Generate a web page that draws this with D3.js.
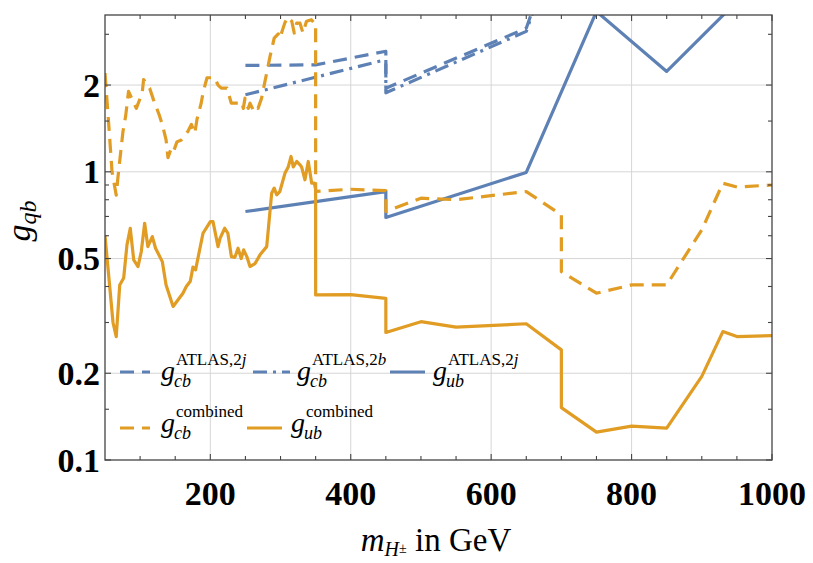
<!DOCTYPE html>
<html>
<head>
<meta charset="utf-8">
<script src="https://cdn.jsdelivr.net/npm/d3@7"></script>
<style>
  body { margin: 0; background: #fff; }
  svg { font-family: "Liberation Serif", "Times New Roman", serif; }
</style>
</head>
<body>
<svg id="chart" width="813" height="563"></svg>
<script>
// values: [mass in GeV, coupling]
const cb2jATLAS = [[250, 2.34], [350, 2.35], [450, 2.62], [450, 1.95], [650, 3.15], [700, 7]];
const cb2bATLAS = [[250, 1.85], [450, 2.45], [450, 1.88], [650, 3.07], [700, 7]];
const ub2jATLAS = [[250, 0.728], [450, 0.854], [450, 0.694], [650, 0.995], [750, 3.6], [850, 2.23], [950, 3.9]];

const cbCombined = [
  [50, 2.2], [55, 1.5], [60, 1.0], [66, 0.83], [68.5, 0.96], [75.6, 1.38], [79.4, 1.56], [83.5, 1.9],
  [94.6, 1.66], [103, 1.88], [105, 2.09], [113.6, 1.95], [119, 1.78], [127, 1.58], [131.6, 1.46],
  [137, 1.29], [139.7, 1.12], [144.5, 1.21], [147.8, 1.18], [152.5, 1.27], [158.7, 1.29], [168, 1.38],
  [173, 1.46], [177.8, 1.36], [181, 1.52], [187, 1.73], [189.6, 1.88], [195.3, 2.12], [206, 2.12],
  [211, 2.0], [215.6, 1.95], [223.8, 1.95], [229.9, 1.73], [239.7, 1.73], [244.7, 1.75], [247, 1.66],
  [249.4, 1.8], [251.8, 1.71], [254, 1.66], [256.5, 1.73], [261, 1.64], [263.6, 1.69], [268, 1.66],
  [273, 1.8], [285, 2.51], [291, 2.91], [296.8, 3.01], [299, 2.91], [306, 3.28], [310, 3.44],
  [316, 3.33], [319.6, 3.03], [323, 3.28], [327.7, 3.28], [332, 3.03], [337, 3.33], [344, 3.37],
  [348, 3.28], [350, 3.28], [350, 0.855], [400, 0.87], [450, 0.86], [450, 0.728], [500, 0.81],
  [550, 0.8], [650, 0.854], [700, 0.709], [700, 0.45], [750, 0.379], [800, 0.405], [850, 0.405],
  [900, 0.629], [930, 0.913], [950, 0.885], [1000, 0.9]
];

const ubCombined = [
  [50, 0.6], [56.7, 0.4], [61.4, 0.3], [66, 0.268], [71, 0.405], [76.6, 0.428], [81.3, 0.558],
  [86, 0.637], [90.9, 0.495], [97, 0.469], [101.7, 0.529], [106.5, 0.663], [111, 0.55], [117.4, 0.596],
  [122, 0.543], [131.6, 0.488], [137, 0.405], [147, 0.341], [161, 0.379], [165.8, 0.4], [171.5, 0.417],
  [175.3, 0.467], [179, 0.457], [189.6, 0.612], [200, 0.672], [203.8, 0.672], [211, 0.55], [214, 0.589],
  [220.5, 0.637], [225, 0.612], [230, 0.508], [235, 0.505], [239.5, 0.543], [244, 0.5], [247.5, 0.536],
  [252, 0.508], [256.5, 0.469], [263.6, 0.48], [270.8, 0.515], [280.3, 0.55], [287.4, 0.843],
  [291, 0.878], [294.5, 0.832], [299, 0.854], [306.4, 0.99], [311, 1.04], [315, 1.13], [318.2, 1.04],
  [323, 1.086], [327.7, 1.057], [330, 1.04], [334.8, 0.938], [339.5, 1.086], [344.4, 0.913],
  [348, 0.913], [350, 0.87], [350, 0.374], [400, 0.375], [450, 0.364], [450, 0.277], [500, 0.302],
  [550, 0.289], [650, 0.297], [700, 0.241], [700, 0.152], [750, 0.125], [800, 0.131], [850, 0.129],
  [900, 0.195], [930, 0.279], [950, 0.268], [1000, 0.27]
];

const xMajorTicks = [200, 400, 600, 800, 1000];
const xMinorTicks = [100, 150, 250, 300, 350, 450, 500, 550, 650, 700, 750, 850, 900, 950];
const yMajorTicks = [0.1, 0.2, 0.5, 1, 2];
const yMinorTicks = [0.15, 0.3, 0.4, 0.6, 0.7, 0.8, 0.9, 1.5, 3];

const blue = "#5E81B5", orange = "#E19C24";
const dashed = "14,8", dashDot = "14,6,3,6";

const svg = d3.select("#chart");
const pLeft = 105, pRight = 772, pTop = 15, pBottom = 460;

const x = d3.scaleLinear().domain([50, 1000]).range([pLeft, pRight]);
const y = d3.scaleLog().domain([0.1, 3.5]).range([pBottom, pTop]);

svg.append("defs").append("clipPath").attr("id", "plotclip")
  .append("rect").attr("x", pLeft).attr("y", pTop)
  .attr("width", pRight - pLeft).attr("height", pBottom - pTop);

// grid
const grid = svg.append("g").attr("stroke", "#d6d6d6").attr("stroke-width", 1);
grid.selectAll(".gx").data(xMajorTicks.filter(d => d < 1000)).enter().append("line")
  .attr("x1", d => x(d)).attr("x2", d => x(d)).attr("y1", pTop).attr("y2", pBottom);
grid.selectAll(".gy").data(yMajorTicks.filter(d => d > 0.1)).enter().append("line")
  .attr("y1", d => y(d)).attr("y2", d => y(d)).attr("x1", pLeft).attr("x2", pRight);

// series
const line = d3.line().x(d => x(d[0])).y(d => y(d[1]));
const series = [
  { data: cb2jATLAS, color: blue, dash: dashed },
  { data: cb2bATLAS, color: blue, dash: dashDot },
  { data: ub2jATLAS, color: blue, dash: null },
  { data: cbCombined, color: orange, dash: dashed },
  { data: ubCombined, color: orange, dash: null }
];
const plot = svg.append("g").attr("clip-path", "url(#plotclip)");
series.forEach(s => {
  plot.append("path")
    .attr("d", line(s.data))
    .attr("fill", "none")
    .attr("stroke", s.color)
    .attr("stroke-width", 3.2)
    .attr("stroke-linejoin", "round")
    .attr("stroke-dasharray", s.dash);
});

// frame and ticks
svg.append("rect").attr("x", pLeft).attr("y", pTop)
  .attr("width", pRight - pLeft).attr("height", pBottom - pTop)
  .attr("fill", "none").attr("stroke", "#444").attr("stroke-width", 1.3);

const ticks = svg.append("g").attr("stroke", "#444").attr("stroke-width", 1.1);
function xTick(v, len) {
  ticks.append("line").attr("x1", x(v)).attr("x2", x(v)).attr("y1", pBottom).attr("y2", pBottom - len);
  ticks.append("line").attr("x1", x(v)).attr("x2", x(v)).attr("y1", pTop).attr("y2", pTop + len);
}
function yTick(v, len) {
  ticks.append("line").attr("y1", y(v)).attr("y2", y(v)).attr("x1", pLeft).attr("x2", pLeft + len);
  ticks.append("line").attr("y1", y(v)).attr("y2", y(v)).attr("x1", pRight).attr("x2", pRight - len);
}
xMajorTicks.forEach(v => xTick(v, 6));
xMinorTicks.forEach(v => xTick(v, 4));
yMajorTicks.forEach(v => yTick(v, 6));
yMinorTicks.forEach(v => yTick(v, 4));

// tick labels
svg.selectAll(".xl").data(xMajorTicks).enter().append("text")
  .attr("x", d => x(d)).attr("y", 505)
  .attr("text-anchor", "middle")
  .style("font-size", "34px").style("font-weight", "bold")
  .text(d => d);
svg.selectAll(".yl").data(yMajorTicks).enter().append("text")
  .attr("x", 100).attr("y", d => y(d)).attr("dy", "0.34em")
  .attr("text-anchor", "end")
  .style("font-size", "34px").style("font-weight", "bold")
  .text(d => d);

// axis titles
const xt = svg.append("text").attr("x", 436).attr("y", 551)
  .attr("text-anchor", "middle").style("font-size", "33px");
xt.append("tspan").style("font-style", "italic").text("m");
xt.append("tspan").attr("dy", 5).style("font-size", "20px").style("font-style", "italic").text("H");
xt.append("tspan").style("font-size", "14px").attr("dy", -3).text("±");
xt.append("tspan").attr("dy", -2).text(" in GeV");

const yt = svg.append("text").attr("transform", "translate(30,221) rotate(-90)")
  .attr("text-anchor", "middle").style("font-size", "34px").style("font-style", "italic");
yt.append("tspan").text("g");
yt.append("tspan").attr("dy", 6).style("font-size", "24px").text("qb");

// legend
const legendItems = [
  { color: blue, dash: dashed, x0: 120, x1: 150, ly: 372, gx: 161, gy: 380, sub: "cb", sup: ["ATLAS,2", "j"] },
  { color: blue, dash: dashDot, x0: 253, x1: 290, ly: 372, gx: 297, gy: 380, sub: "cb", sup: ["ATLAS,2", "b"] },
  { color: blue, dash: null, x0: 390, x1: 425, ly: 372, gx: 433, gy: 380, sub: "ub", sup: ["ATLAS,2", "j"] },
  { color: orange, dash: dashed, x0: 120, x1: 150, ly: 428, gx: 161, gy: 432, sub: "cb", sup: ["combined", ""] },
  { color: orange, dash: null, x0: 247, x1: 282, ly: 428, gx: 291, gy: 432, sub: "ub", sup: ["combined", ""] }
];
const legend = svg.append("g");
legendItems.forEach(d => {
  legend.append("line")
    .attr("x1", d.x0).attr("x2", d.x1).attr("y1", d.ly).attr("y2", d.ly)
    .attr("stroke", d.color).attr("stroke-width", 3.2)
    .attr("stroke-dasharray", d.dash);
  legend.append("text").attr("x", d.gx).attr("y", d.gy)
    .style("font-size", "28px").style("font-style", "italic").text("g");
  legend.append("text").attr("x", d.gx + 13).attr("y", d.gy + 7)
    .style("font-size", "18px").style("font-style", "italic").text(d.sub);
  const sup = legend.append("text").attr("x", d.gx + 15).attr("y", d.gy - 15)
    .style("font-size", "17px");
  sup.append("tspan").text(d.sup[0]);
  sup.append("tspan").style("font-style", "italic").text(d.sup[1]);
});
</script>
</body>
</html>
